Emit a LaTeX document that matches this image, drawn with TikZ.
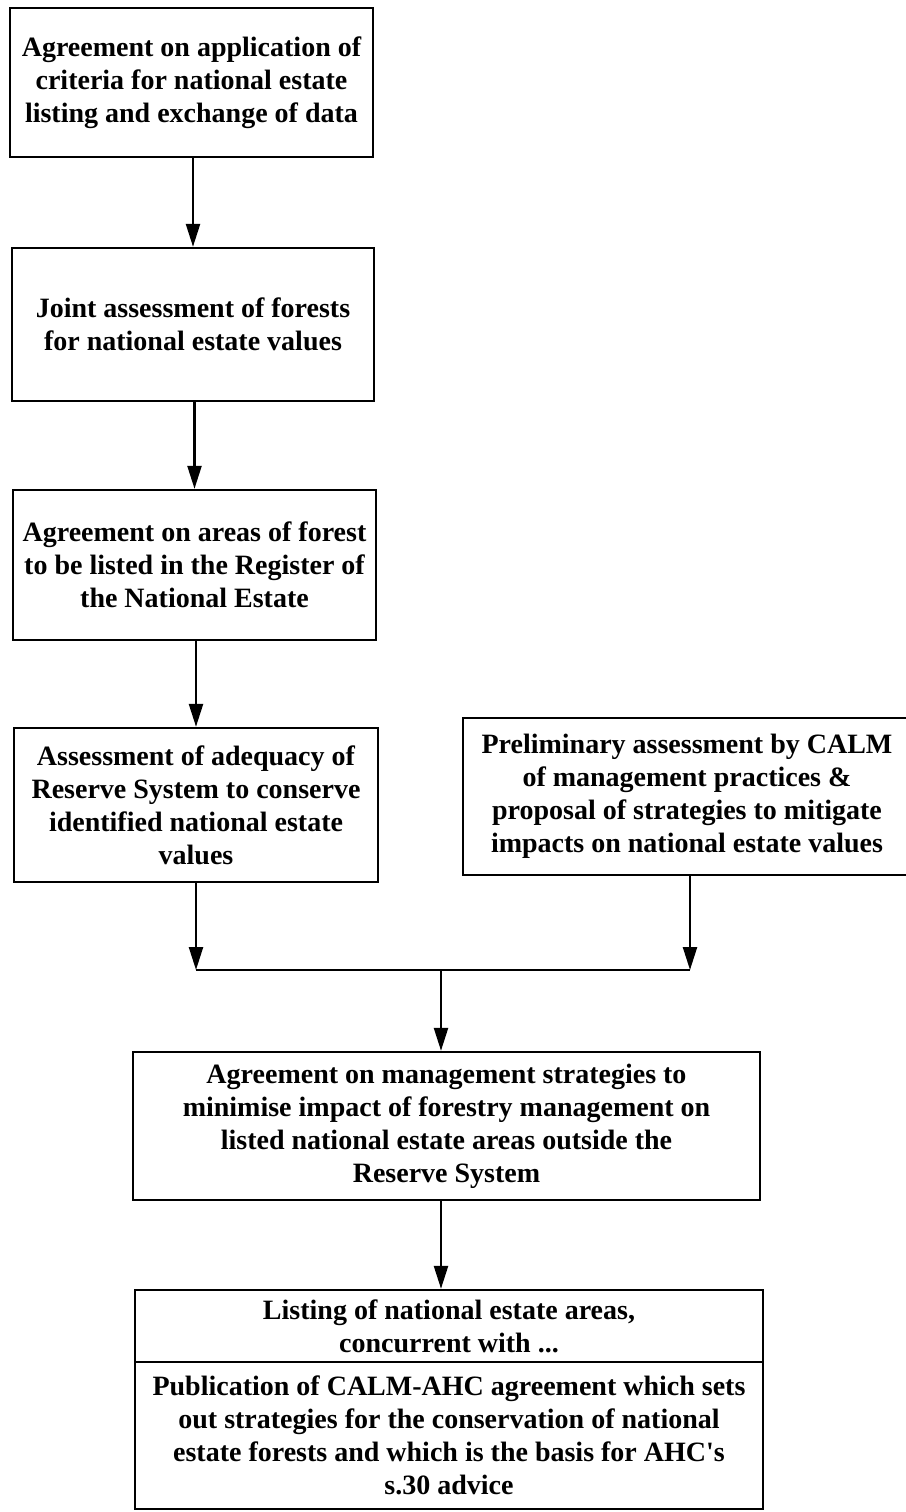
\documentclass[tikz,border=0pt]{standalone}
\usepackage{fontspec}
\setmainfont{Liberation Serif}
\usetikzlibrary{arrows.meta}
\newcommand{\boxfont}{\bfseries\fontsize{28pt}{33pt}\selectfont}
\tikzset{
  box/.style={draw, line width=2.4pt, align=center, inner sep=0pt, font=\boxfont},
  conn/.style={line width=2.4pt},
  arr/.style={conn, -{Triangle[length=23pt,width=14pt]}}
}
\begin{document}
\begin{tikzpicture}[x=1pt,y=-1pt]
\useasboundingbox (0,0) rectangle (905,1512);
\node[box, minimum width=363pt, minimum height=149pt] (b1) at (191.5,82.5)
  {Agreement on application of\\criteria for national estate\\listing and exchange of data};
\node[box, minimum width=362pt, minimum height=153pt] (b2) at (193,324.5)
  {Joint assessment of forests\\for national estate values};
\node[box, minimum width=363pt, minimum height=150pt] (b3) at (194.5,565)
  {Agreement on areas of forest\\to be listed in the Register of\\the National Estate};
\node[box, minimum width=364pt, minimum height=154pt] (b4) at (196,805)
  {Assessment of adequacy of\\Reserve System to conserve\\identified national estate\\values};
\node[box, minimum width=448pt, minimum height=157pt] (b5) at (687,796.5)
  {Preliminary assessment by CALM\\of management practices \&\\proposal of strategies to mitigate\\impacts on national estate values};
\node[box, minimum width=627pt, minimum height=148pt] (b6) at (446.5,1126)
  {Agreement on management strategies to\\minimise impact of forestry management on\\listed national estate areas outside the\\Reserve System};
\node[box, minimum width=628pt, minimum height=72pt] (b7a) at (449,1326)
  {Listing of national estate areas,\\concurrent with ...};
\node[box, minimum width=628pt, minimum height=147pt] (b7b) at (449,1435.5)
  {Publication of CALM-AHC agreement which sets\\out strategies for the conservation of national\\estate forests and which is the basis for AHC\textquotesingle s\\s.30 advice};
\coordinate (jl) at (196,970);
\coordinate (jr) at (690,970);
\coordinate (jm) at (441,970);
\draw[arr] (b1.south -| b2.north) -- (b2.north);
\draw[arr] (b2.south -| b3.north) -- (b3.north);
\draw[arr] (b3.south -| b4.north) -- (b4.north);
\draw[arr] (b4.south) -- (jl);
\draw[arr] (b5.south -| jr) -- (jr);
\draw[conn] (jl) -- (jr);
\draw[arr] (jm) -- (b6.north -| jm);
\draw[arr] (b6.south -| jm) -- (b7a.north -| jm);
\end{tikzpicture}
\end{document}
